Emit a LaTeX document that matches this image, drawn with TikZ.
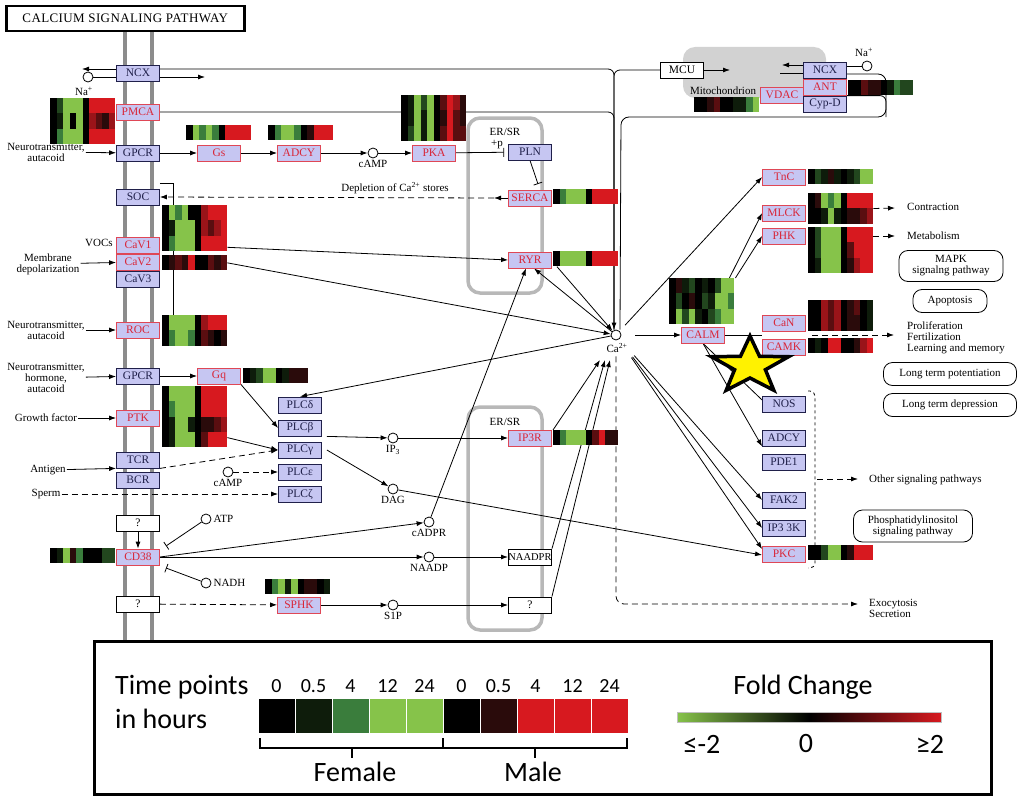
\documentclass[tikz,border=0pt]{standalone}
\usepackage{fontspec}
\setmainfont{Liberation Serif}
\newfontfamily\legendfont{Carlito}
\newfontfamily\titlefont[LetterSpace=3]{Liberation Serif}
\usetikzlibrary{shapes,arrows,arrows.meta,positioning}

\definecolor{keggfill}{HTML}{C6C6F2}
\definecolor{keggred}{HTML}{D92638}
\definecolor{keggnavy}{HTML}{20204A}
\definecolor{ergray}{HTML}{B8B8B8}
\definecolor{mitogray}{HTML}{D2D2D2}
\definecolor{membgray}{HTML}{8C8C8C}
% heat map colours
\definecolor{hk}{HTML}{000000}
\definecolor{hg1}{HTML}{0E1C0B}
\definecolor{hg2}{HTML}{22461E}
\definecolor{hg3}{HTML}{3A7D3C}
\definecolor{hg4}{HTML}{86C34A}
\definecolor{hr1}{HTML}{2A0B0B}
\definecolor{hr2}{HTML}{5A0E10}
\definecolor{hr3}{HTML}{9A1419}
\definecolor{hr4}{HTML}{D7191F}

\newcommand{\boxfont}{\fontsize{11.5}{11.5}\selectfont}
\newcommand{\lblfont}{\fontsize{11}{11}\selectfont}

\pgfdeclarelayer{bg}
\pgfdeclarelayer{lines}
\pgfsetlayers{bg,lines,main}

% heat map: name, x, y (top left), rows, colour rows
\newcommand{\heatmap}[5]{%
  \foreach \rw [count=\ri] in {#5} {
    \foreach \cl [count=\ci] in \rw {
      \fill[h\cl] ({#2+(\ci-1)*6.5},{#3+(\ri-1)*15.3}) rectangle +(6.5,15.3);
    }
  }
  \node[heat, minimum height={#4*15.3}] (#1) at (#2,#3) {};
}

\begin{document}
\begin{tikzpicture}[x=1pt, y=-1pt, >={Latex[length=7pt,width=5pt]}]
  \tikzstyle{gene}=[rectangle, draw=keggnavy, fill=keggfill, thick, minimum width=43, minimum height=16, inner sep=0, font=\boxfont, text=keggnavy]
  \tikzstyle{hit}=[gene, draw=keggred!85, text=keggred]
  \tikzstyle{unknown}=[gene, fill=white, draw=black, text=black]
  \tikzstyle{cpd}=[circle, draw=black, fill=white, thick, inner sep=0, minimum size=10]
  \tikzstyle{lbl}=[font=\lblfont, align=center, inner sep=1]
  \tikzstyle{pathway}=[rectangle, rounded corners=9, draw=black, thick, fill=white, align=center, font=\lblfont, inner sep=2]
  \tikzstyle{heat}=[rectangle, inner sep=0, minimum width=65, anchor=north west]
  \tikzstyle{line}=[draw, thick, ->]
  \tikzstyle{dline}=[draw, thick, dash pattern=on 6pt off 4pt, ->]
  \tikzstyle{inhibit}=[draw, thick, -{Bar[width=9pt]}]
  \tikzstyle{er}=[draw=ergray, line width=3.5, rounded corners=12]
  \tikzstyle{legtext}=[font=\legendfont\fontsize{28}{34}\selectfont, inner sep=0]
  \tikzstyle{legsmall}=[font=\legendfont\fontsize{20}{20}\selectfont, inner sep=0]

  \useasboundingbox (0,0) rectangle (1023,800);

  % membrane, ER and mitochondrion
  \begin{pgfonlayer}{bg}
    \draw[membgray, line width=4] (125,32) -- (125,640);
    \draw[membgray, line width=4] (152,32) -- (152,640);
    \draw[er] (468,118) rectangle (542,293);
    \draw[er] (468,407) rectangle (542,630);
    \fill[mitogray, rounded corners=12] (683,47) rectangle (826,98);
  \end{pgfonlayer}

  \node[draw, line width=2.5, minimum width=238, minimum height=25, anchor=north west, font=\titlefont\fontsize{13}{13}\selectfont] (title) at (5,5) {CALCIUM SIGNALING PATHWAY};

  % plasma membrane
  \node[gene] (NCXpm) at (138,73) {NCX};
  \node[hit] (PMCA) at (138,112) {PMCA};
  \node[gene] (GPCRa) at (138,153) {GPCR};
  \node[gene] (SOC) at (138,197) {SOC};
  \node[hit] (CaVa) at (138,245) {CaV1};
  \node[hit] (CaVb) at (138,262) {CaV2};
  \node[gene] (CaVc) at (138,279) {CaV3};
  \node[hit] (ROC) at (138,330) {ROC};
  \node[gene] (GPCRb) at (138,376) {GPCR};
  \node[hit] (PTK) at (138,418) {PTK};
  \node[gene] (TCR) at (138,460) {TCR};
  \node[gene] (BCR) at (138,480) {BCR};
  \node[unknown] (unkA) at (138,523) {?};
  \node[hit] (CD38) at (138,557) {CD38};
  \node[unknown] (unkB) at (138,604) {?};

  \node[cpd] (naA) at (88,77) {};
  \node[lbl] (naAlbl) at (84,91) {Na\textsuperscript{+}};
  \node[lbl] (ntA) at (46,152) {Neurotransmitter,\\autacoid};
  \node[lbl] (vocs) at (99,243) {VOCs};
  \node[lbl] (memb) at (48,264) {Membrane\\depolarization};
  \node[lbl] (ntB) at (46,330) {Neurotransmitter,\\autacoid};
  \node[lbl] (ntC) at (46,378) {Neurotransmitter,\\hormone,\\autacoid};
  \node[lbl] (growth) at (46,418) {Growth factor};
  \node[lbl] (antigen) at (48,470) {Antigen};
  \node[lbl] (sperm) at (46,494) {Sperm};

  % cAMP / PKA row
  \node[hit] (Gs) at (219,153) {Gs};
  \node[hit] (ADCYa) at (299,153) {ADCY};
  \node[cpd] (cAMPa) at (373,153) {};
  \node[lbl, below=1pt of cAMPa] (cAMPalbl) {cAMP};
  \node[hit] (PKA) at (434,153) {PKA};
  \node[gene] (PLN) at (530,152) {PLN};
  \node[lbl] (erA) at (505,132) {ER/SR};
  \node[lbl] (plusp) at (497,145) {+p};
  \node[hit] (SERCA) at (530,198) {SERCA};
  \node[hit] (RYR) at (530,260) {RYR};
  \node[lbl] (deplete) at (395,188) {Depletion of Ca\textsuperscript{2+} stores};

  % PLC
  \node[hit] (Gq) at (219,376) {Gq};
  \node[gene] (PLCd) at (300,405) {PLCδ};
  \node[gene] (PLCb) at (300,428) {PLCβ};
  \node[gene] (PLCg) at (300,450) {PLCγ};
  \node[gene] (PLCe) at (300,472) {PLCε};
  \node[gene] (PLCz) at (300,494) {PLCζ};
  \node[cpd] (cAMPb) at (228,472) {};
  \node[lbl, below=1pt of cAMPb] (cAMPblbl) {cAMP};
  \node[cpd] (ip3) at (393,438) {};
  \node[lbl, below=1pt of ip3] (ip3lbl) {IP\textsubscript{3}};
  \node[cpd] (dag) at (393,489) {};
  \node[lbl, below=1pt of dag] (daglbl) {DAG};
  \node[hit] (IPtR) at (530,438) {IP3R};
  \node[lbl] (erB) at (505,422) {ER/SR};

  % CD38 and SPHK
  \node[cpd] (atp) at (206,519) {};
  \node[lbl, right=1pt of atp] (atplbl) {ATP};
  \node[cpd] (nadh) at (206,583) {};
  \node[lbl, right=1pt of nadh] (nadhlbl) {NADH};
  \node[cpd] (cadpr) at (429,522) {};
  \node[lbl, below=1pt of cadpr] (cadprlbl) {cADPR};
  \node[cpd] (naadp) at (429,557) {};
  \node[lbl, below=1pt of naadp] (naadplbl) {NAADP};
  \node[unknown, font=\fontsize{10.5}{10.5}\selectfont] (NAADPR) at (530,557) {NAADPR};
  \node[hit] (SPHK) at (299,605) {SPHK};
  \node[cpd] (sip) at (393,605) {};
  \node[lbl, below=1pt of sip] (siplbl) {S1P};
  \node[unknown] (unkC) at (530,605) {?};

  % Ca2+
  \node[cpd] (ca) at (616,335) {};
  \node[lbl] (calbl) at (617,348) {Ca\textsuperscript{2+}};

  % mitochondrion
  \node[unknown] (MCU) at (682,70) {MCU};
  \node[lbl] (mito) at (723,91) {Mitochondrion};
  \node[hit] (VDAC) at (782,95) {VDAC};
  \node[gene] (NCXmt) at (825,70) {NCX};
  \node[hit] (ANT) at (825,87) {ANT};
  \node[gene] (CypD) at (825,104) {Cyp-D};
  \node[cpd] (naB) at (867,66) {};
  \node[lbl] (naBlbl) at (864,52) {Na\textsuperscript{+}};

  % targets
  \node[hit] (TnC) at (784,177) {TnC};
  \node[hit] (MLCK) at (784,213) {MLCK};
  \node[hit] (PHK) at (784,236) {PHK};
  \node[hit] (CALM) at (703,335) {CALM};
  \node[hit] (CaN) at (784,323) {CaN};
  \node[hit] (CAMK) at (784,347) {CAMK};
  \node[gene] (NOS) at (784,404) {NOS};
  \node[gene] (ADCYb) at (784,438) {ADCY};
  \node[gene] (PDE) at (784,462) {PDE1};
  \node[gene] (FAK) at (784,500) {FAK2};
  \node[gene] (IPttK) at (784,528) {IP3 3K};
  \node[hit] (PKC) at (784,554) {PKC};

  \node[lbl, anchor=west] (contr) at (906,207) {Contraction};
  \node[lbl, anchor=west] (metab) at (906,236) {Metabolism};
  \node[pathway, minimum width=104, minimum height=31] (mapk) at (951,266) {MAPK\\signalng pathway};
  \node[pathway, minimum width=74, minimum height=23] (apop) at (950,301) {Apoptosis};
  \node[lbl, anchor=west, align=left] (prolif) at (906,338) {Proliferation\\Fertilization\\Learning and memory};
  \node[pathway, minimum width=133, minimum height=23] (ltp) at (950,374) {Long term potentiation};
  \node[pathway, minimum width=133, minimum height=23] (ltd) at (950,405) {Long term depression};
  \node[lbl, anchor=west] (other) at (868,480) {Other signaling pathways};
  \node[pathway, minimum width=119, minimum height=32] (pisig) at (913,526) {Phosphatidylinositol\\signaling pathway};
  \node[lbl, anchor=west, align=left] (exo) at (868,608) {Exocytosis\\Secretion};

  % heat maps
  \heatmap{hmPMCA}{50}{98}{3}{{k,g2,g4,g4,g4,k,r4,r4,r4,r4},{k,g1,g4,k,g4,k,r3,r2,r1,r3},{k,g3,g4,g4,g4,k,r4,r4,r4,r4}}
  \heatmap{hmGs}{186}{125}{1}{{k,g4,g3,g4,g3,k,r4,r4,r4,r4}}
  \heatmap{hmADCYa}{268}{125}{1}{{k,g3,g4,g4,g3,k,r1,r4,r4,r4}}
  \heatmap{hmPKA}{401}{95}{3}{{k,g1,g4,g2,g4,k,r2,r4,r3,r1},{k,g1,g4,g1,g4,k,r1,r4,r2,r1},{k,g2,g4,g1,g4,k,r2,r4,r2,r2}}
  \heatmap{hmSERCA}{553}{189}{1}{{k,g3,g4,g4,g4,k,r4,r4,r4,r4}}
  \heatmap{hmRYR}{553}{251}{1}{{k,g4,g4,g4,g4,k,r4,r4,r4,r4}}
  \heatmap{hmCaVa}{162}{205}{3}{{k,g4,g3,g4,k,k,r3,r4,r4,r4},{k,g1,g4,g4,g4,k,r3,r2,r3,r4},{k,g3,g4,g4,g4,k,r4,r4,r4,r4}}
  \heatmap{hmCaVb}{162}{255}{1}{{k,r1,r2,r1,r4,k,k,r2,r1,r2}}
  \heatmap{hmROC}{162}{315}{2}{{k,g4,g4,g4,g4,k,r3,r4,r4,r4},{k,g3,g4,g4,g3,k,r2,r1,k,r1}}
  \heatmap{hmGq}{243}{368}{1}{{k,g1,g2,g4,g4,k,g1,r1,r1,r1}}
  \heatmap{hmPTK}{162}{386}{4}{{k,g4,g4,g4,g4,k,r4,r4,r4,r4},{k,g3,g4,g4,g4,k,r4,r4,r4,r4},{k,g1,g4,g4,g1,k,r1,r1,r2,r3},{k,g1,g4,g4,g4,k,r2,r4,r4,r4}}
  \heatmap{hmCD}{50}{548}{1}{{k,g1,g4,r1,g3,k,k,k,g2,g2}}
  \heatmap{hmSPHK}{265}{579}{1}{{k,g3,g4,g1,g4,k,r1,r1,k,g1}}
  \heatmap{hmIPtR}{553}{430}{1}{{k,g3,g4,g4,g4,k,r2,r4,r1,r1}}
  \heatmap{hmVDAC}{694}{97}{1}{{k,k,r1,r2,k,k,g1,g1,g3,g4}}
  \heatmap{hmANT}{848}{80}{1}{{k,k,r2,r1,r1,k,g1,g3,g2,g2}}
  \heatmap{hmTnC}{808}{169}{1}{{k,g2,g1,r1,g1,k,g1,g2,g4,g4}}
  \heatmap{hmMLCK}{808}{193}{2}{{k,r1,g4,g3,g4,k,r4,r4,r4,r4},{k,k,g1,g4,g1,k,r1,r1,r2,r3}}
  \heatmap{hmPHK}{808}{227}{3}{{k,g2,g4,g4,g4,k,r4,r4,r4,r4},{k,g2,g4,g4,g4,k,r2,r4,r4,r4},{k,g1,g4,g4,g4,k,r1,r3,r4,r4}}
  \heatmap{hmCALM}{669}{278}{3}{{k,r1,g1,g2,k,g1,k,g2,g4,g4},{k,g2,k,r1,k,g2,g1,g4,g4,g3},{k,g4,g2,g4,g1,k,g2,g3,g4,g4}}
  \heatmap{hmCaN}{808}{300}{2}{{k,k,r3,r2,r3,k,r1,r2,k,g1},{k,k,r3,r2,r3,k,r1,r1,k,g1}}
  \heatmap{hmCAMK}{808}{338}{1}{{k,g1,k,r4,r4,k,k,r1,r3,r4}}
  \heatmap{hmPKC}{808}{545}{1}{{k,k,g2,g4,g4,k,r1,r4,r4,r4}}

  \node[star, star points=5, star point ratio=2.5, draw=black, line width=3.5, fill=yellow, minimum size=60, xscale=1.35] (star) at (750,366) {};

  % free ends
  \coordinate (naOut) at (82,69);
  \coordinate (naIn) at (205,77);
  \coordinate (mcuIn) at (730,70);
  \coordinate (ncxOut) at (782,65);
  \coordinate (ncxIn) at (780,73);
  \coordinate (mtA) at (886,74);
  \coordinate (mtB) at (886,117);
  \coordinate (mtC) at (621,117);
  \coordinate (plnBar) at (538,184);
  \coordinate (sercaTip) at (494,198);
  \coordinate (atpBar) at (166,546);
  \coordinate (nadhBar) at (166,568);
  \coordinate (caInA) at (600,360);
  \coordinate (caInB) at (605,360);
  \coordinate (caInC) at (610,360);
  \coordinate (canIn) at (762,335);
  \coordinate (canOut) at (812,335);
  \coordinate (prolifIn) at (894,335);
  \coordinate (contrIn) at (895,208);
  \coordinate (metabIn) at (895,236);
  \coordinate (brTop) at (808,391);
  \coordinate (brBot) at (815,568);
  \coordinate (brEnd) at (808,568);
  \coordinate (brMid) at (817,479);
  \coordinate (otherIn) at (858,479);
  \coordinate (exoIn) at (858,604);

  \begin{pgfonlayer}{lines}
    % top: NCX, PMCA, MCU, mitochondrion
    \draw[line] ([yshift=4pt]NCXpm.west) -- (naOut);
    \draw[thick] (naA) -- (naA -| NCXpm.west);
    \draw[line] (naA -| NCXpm.east) -- (naIn);
    \draw[line, rounded corners=6] ([yshift=4pt]NCXpm.east) -| ([xshift=-2pt]ca.north);
    \draw[thick, rounded corners=6] (PMCA.east) -| ([xshift=-2pt]ca.north);
    \draw[thick, rounded corners=6] (MCU.west) -| ([xshift=-2pt]ca.north);
    \draw[line] (MCU.east) -- (mcuIn);
    \draw[line] ([yshift=5pt]NCXmt.west) -- (ncxOut);
    \draw[thick] (ncxIn) -- ([yshift=-3pt]NCXmt.west);
    \draw[thick] (naB) -- (naB -| NCXmt.east);
    \draw[thick, rounded corners=8] ([yshift=-4pt]NCXmt.east) -- (mtA) -- (mtB) -- (mtC) -- ([xshift=4pt]ca.north);
    \draw[thick, rounded corners=6] (CypD.north east) -| (mtB);

    % cAMP / PKA row
    \draw[line] (ntA) -- (GPCRa);
    \draw[line] (GPCRa) -- (Gs);
    \draw[line] (Gs) -- (ADCYa);
    \draw[line] (ADCYa) -- (cAMPa);
    \draw[line] (cAMPa) -- (PKA);
    \draw[inhibit, shorten >=4pt] (PKA) -- (PLN);
    \draw[inhibit] (PLN.south) -- (plnBar);
    \draw[line] (SERCA.west) -- (sercaTip);
    \draw[dline] (sercaTip) -- (SOC.east);
    \draw[thick] ([yshift=5pt]SOC.north east) -| ([xshift=11pt]hmROC.north west);

    % channels and receptors
    \draw[line] (memb) -- (CaVb);
    \draw[line] ([yshift=4pt]hmCaVa.south east) -- (RYR.west);
    \draw[line] (hmCaVb.east) -- (ca);
    \draw[line] (ntB) -- (ROC);
    \draw[line] (ntC) -- (GPCRb);
    \draw[line] (GPCRb) -- (Gq);
    \draw[line] (Gq.south east) -- (PLCb.west);
    \draw[line] (growth) -- (PTK);
    \draw[line] ([yshift=10pt]hmPTK.south east) -- (PLCg.west);
    \draw[line] (antigen) -- (TCR.south west);
    \draw[dline] (TCR.south east) -- (PLCg.west);
    \draw[dline] (cAMPb) -- (PLCe);
    \draw[dline] (sperm) -- (PLCz);
    \draw[line] (ca) -- (PLCd.north);
    \draw[line] ([xshift=5pt]PLCb.south east) -- (ip3);
    \draw[line] ([xshift=5pt]PLCg.east) -- (dag);
    \draw[line] (ip3) -- (IPtR);
    \draw[line] (dag) -- ([yshift=-1pt]PKC.west);

    % CD38 and SPHK
    \draw[line] (unkA) -- (CD38);
    \draw[inhibit] (atp) -- (atpBar);
    \draw[inhibit] (nadh) -- (nadhBar);
    \draw[line] (CD38.east) -- (cadpr);
    \draw[line] (CD38.east) -- (naadp);
    \draw[line] (naadp) -- (NAADPR);
    \draw[line] (cadpr) -- ([xshift=-4pt]RYR.south);
    \draw[line] (ca) -- ([xshift=4pt]RYR.south);
    \draw[line] ([xshift=4pt]hmRYR.south west) -- (ca);
    \draw[dline] (unkB) -- (SPHK);
    \draw[line] (SPHK) -- (sip);
    \draw[line] (sip) -- (unkC);
    \draw[line] (hmIPtR.north west) -- (caInA);
    \draw[line] (NAADPR.north east) -- (caInB);
    \draw[line] (unkC.north east) -- (caInC);

    % Ca2+ targets
    \draw[line, shorten <=14pt] (ca) -- (CALM);
    \draw[line, shorten <=8pt] (ca) -- (TnC.west);
    \draw[line] ([xshift=-5pt]hmCALM.north east) -- (MLCK.west);
    \draw[line] ([xshift=1pt]hmCALM.north east) -- (PHK.west);
    \draw[thick] (CALM) -- (canIn);
    \draw[dline] (canOut) -- (prolifIn);
    \draw[dline] (hmMLCK.east) -- (contrIn);
    \draw[dline] ([yshift=-9pt]hmPHK.north east) -- (metabIn);
    \draw[thick] (CALM.south) -- ([yshift=4pt]NOS.west);
    \draw[line] (CALM.south) -- (ADCYb.south west);
    \draw[line, shorten <=22pt] (ca) -- (FAK.west);
    \draw[line, shorten <=22pt] (ca) -- (IPttK.west);
    \draw[line, shorten <=22pt] (ca) -- ([yshift=5pt]PKC.west);
    \draw[thick, dashed, rounded corners=5] (brTop) -| (brBot) -- (brEnd);
    \draw[dline] (brMid) -- (otherIn);
    \draw[dline, rounded corners=8, shorten <=16pt] (ca.south) |- (exoIn);
  \end{pgfonlayer}

  % legend
  \node[draw, line width=2.5, fill=white, minimum width=897, minimum height=153, anchor=north west] (legend) at (93,640) {};
  \node[legtext, anchor=west, align=left] (timepts) at (115,702) {Time points\\in hours};
  \foreach \cl [count=\ci] in {k,g1,g3,g4,g4,k,r1,r4,r4,r4} {
    \filldraw[fill=h\cl, draw=white, thick] ({258+(\ci-1)*37},698) rectangle +(37,35);
  }
  \foreach \t [count=\ci] in {0,0.5,4,12,24,0,0.5,4,12,24} {
    \node[legsmall] (tp\ci) at ({258+(\ci-0.5)*37},686) {\t};
  }
  \draw[line width=2.5] (260,738) -- (260,748) -- (627,748) -- (627,738);
  \draw[line width=2.5] (443,738) -- (443,748);
  \draw[line width=2.5] (352,748) -- (352,758);
  \draw[line width=2.5] (535,748) -- (535,758);
  \node[legtext] (female) at (355,772) {Female};
  \node[legtext] (male) at (533,772) {Male};
  \node[legtext] (fold) at (803,687) {Fold Change};
  \shade[left color=hg4, right color=hr4, middle color=black] (677,712) rectangle (941,722);
  \draw[gray!50, thin] (677,712) rectangle (941,722);
  \node[legtext] (low) at (702,744) {≤-2};
  \node[legtext] (zero) at (806,744) {0};
  \node[legtext] (high) at (930,744) {≥2};
\end{tikzpicture}
\end{document}
